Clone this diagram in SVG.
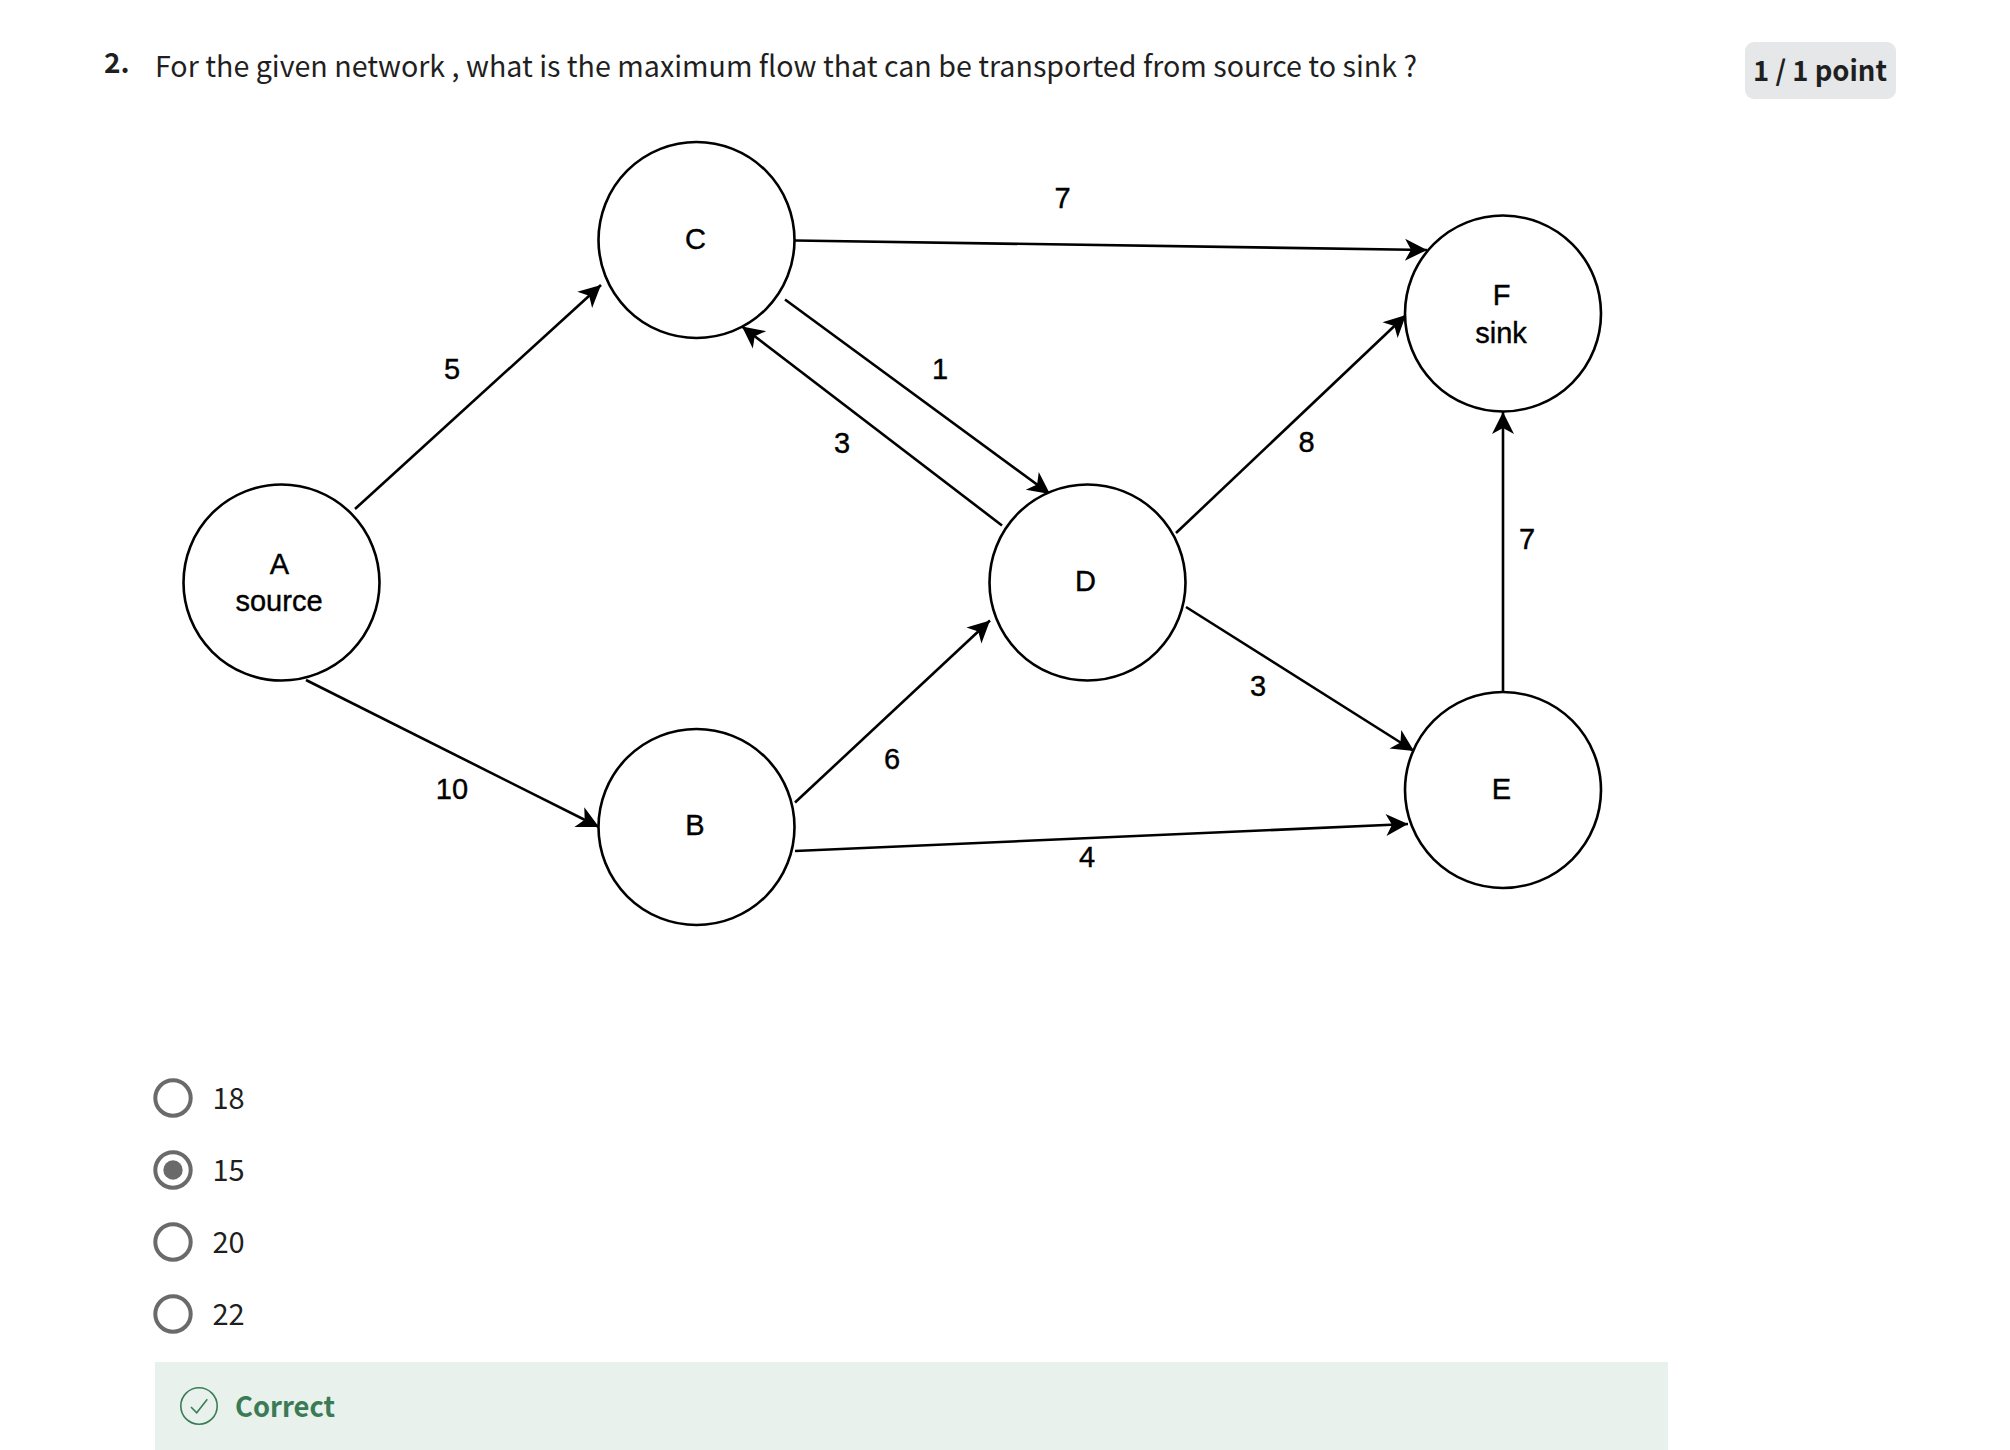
<svg xmlns="http://www.w3.org/2000/svg" width="2010" height="1450" viewBox="0 0 2010 1450">
<style>
.n{fill:#fff;stroke:#000;stroke-width:2.6}
.e{fill:none;stroke:#000;stroke-width:2.6;marker-end:url(#ah)}
.l{font-family:"Liberation Sans",Arial,sans-serif;font-size:29px;fill:#000;stroke:#000;stroke-width:.4;text-anchor:middle}
.t{font-family:"Noto Sans CJK SC","Noto Sans",sans-serif;fill:#1f1f1f}
.r{fill:#fff;stroke:#6a6a6a;stroke-width:4}
</style>
<defs>
<marker id="ah" markerUnits="userSpaceOnUse" markerWidth="24" markerHeight="24" viewBox="0 0 24 24" refX="23" refY="12" orient="auto">
<path d="M1,1 L23,12 L1,23 L7,12 Z" fill="#000"/>
</marker>
</defs>
<rect width="2010" height="1450" fill="#fff"/>
<g id="question">
<text class="t" x="104" y="73" font-size="28" font-weight="700">2.</text>
<text class="t" x="155" y="77" font-size="28.6" textLength="1262" lengthAdjust="spacingAndGlyphs">For the given network , what is the maximum flow that can be transported from source to sink ?</text>
</g>
<g id="badge">
<rect x="1745" y="42" width="151" height="57" rx="9" fill="#e5e7e9"/>
<text class="t" x="1753" y="81" font-size="28" font-weight="700" textLength="134" lengthAdjust="spacingAndGlyphs">1 / 1 point</text>
</g>
<g id="connectors">
<line class="e" x1="355" y1="509" x2="601" y2="285"/>
<line class="e" x1="306" y1="680" x2="599" y2="827"/>
<line class="e" x1="795" y1="240.5" x2="1427" y2="250"/>
<line class="e" x1="785" y1="299.5" x2="1050" y2="494"/>
<line class="e" x1="1002" y1="525.5" x2="742" y2="326.5"/>
<line class="e" x1="795" y1="802.5" x2="990" y2="620.5"/>
<line class="e" x1="795" y1="851" x2="1408" y2="824"/>
<line class="e" x1="1176" y1="533" x2="1406" y2="315"/>
<line class="e" x1="1186" y1="607" x2="1414" y2="751"/>
<line class="e" x1="1503" y1="692" x2="1503" y2="412"/>
</g>
<g id="node-A"><circle class="n" cx="281.5" cy="582.5" r="98"/><text class="l" x="279.5" y="574">A</text><text class="l" x="279" y="611">source</text></g>
<g id="node-B"><circle class="n" cx="696.5" cy="827" r="98"/><text class="l" x="695" y="835">B</text></g>
<g id="node-C"><circle class="n" cx="696.5" cy="240" r="98"/><text class="l" x="695.5" y="249">C</text></g>
<g id="node-D"><circle class="n" cx="1087.5" cy="582.5" r="98"/><text class="l" x="1085.5" y="591">D</text></g>
<g id="node-E"><circle class="n" cx="1503" cy="790" r="98"/><text class="l" x="1501.5" y="799">E</text></g>
<g id="node-F"><circle class="n" cx="1503" cy="313.5" r="98"/><text class="l" x="1501.5" y="305">F</text><text class="l" x="1501" y="343">sink</text></g>
<g id="edge-labels">
<text class="l" x="452" y="379">5</text>
<text class="l" x="452" y="799">10</text>
<text class="l" x="1062.5" y="208">7</text>
<text class="l" x="940" y="379">1</text>
<text class="l" x="842" y="453">3</text>
<text class="l" x="892" y="769">6</text>
<text class="l" x="1087" y="867">4</text>
<text class="l" x="1306.5" y="452">8</text>
<text class="l" x="1258" y="696">3</text>
<text class="l" x="1527" y="549">7</text>
</g>
<g id="options">
<circle class="r" cx="173" cy="1098" r="17.7"/><text class="t" x="212.5" y="1109" font-size="29">18</text>
<circle class="r" cx="173" cy="1170" r="17.7"/><circle cx="173" cy="1170" r="9.7" fill="#6a6a6a"/><text class="t" x="212.5" y="1181" font-size="29">15</text>
<circle class="r" cx="173" cy="1242" r="17.7"/><text class="t" x="212.5" y="1253" font-size="29">20</text>
<circle class="r" cx="173" cy="1314" r="17.7"/><text class="t" x="212.5" y="1325" font-size="29">22</text>
</g>
<g id="feedback">
<rect x="155" y="1362" width="1513" height="88" fill="#e8f1ec"/>
<circle cx="199" cy="1406" r="18.2" fill="none" stroke="#3a7d55" stroke-width="1.6"/>
<polyline points="191,1407 196.7,1412.7 207.3,1399.3" fill="none" stroke="#3a7d55" stroke-width="1.6"/>
<text class="t" x="235" y="1417" font-size="28" font-weight="700" textLength="100" lengthAdjust="spacingAndGlyphs" style="fill:#3a7a54">Correct</text>
</g>
</svg>
